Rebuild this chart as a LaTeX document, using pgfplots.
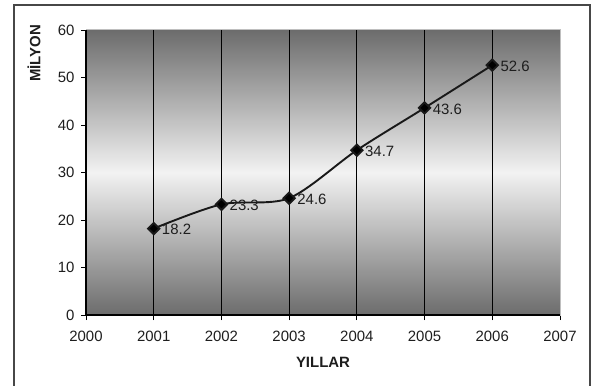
\documentclass[border=0pt]{standalone}
\usepackage{pgfplots}
\pgfplotsset{compat=1.18}
\usepackage{fontspec}
\setmainfont{Liberation Sans}
\definecolor{txt}{HTML}{1E1E1E}
\definecolor{bgdark}{HTML}{6C6C6C}
\definecolor{bglight}{HTML}{F2F2F2}
\begin{document}
\begin{tikzpicture}[x=1bp,y=1bp]
\useasboundingbox (0,0) rectangle (596,385);
\draw[black!72, line width=1.3bp] (14,-10) -- (14,380) -- (590,380) -- (590,-10);
\shade[top color=bgdark, bottom color=bgdark, middle color=bglight] (86,70) rectangle (560,355);
\begin{axis}[
  at={(86bp,70bp)}, anchor=south west,
  scale only axis, width=474bp, height=285bp,
  xmin=2000, xmax=2007, ymin=0, ymax=60,
  xtick={2000,...,2007}, ytick={0,10,...,60},
  xtick pos=bottom, ytick pos=left,
  tick align=outside, major tick length=5bp,
  tick style={black, line width=0.9bp},
  axis line style={draw=black!25, line width=1bp},
  extra x ticks={2001,...,2006}, extra x tick labels={},
  extra x tick style={grid=major, major grid style={black, line width=1.1bp}},
  ticklabel style={font=\fontsize{15}{15}\selectfont, text=txt},
  xticklabel style={yshift=-8bp},
  yticklabel style={xshift=-3bp},
  /pgf/number format/assume math mode=true,
  x tick label style={/pgf/number format/1000 sep=},
  clip=false,
]
\addplot[smooth, tension=0.5, color=black!90, line width=1.9bp,
  mark=square*, mark size=4bp, mark options={solid, fill=black, rotate=45},
  nodes near coords,
  every node near coord/.append style={anchor=west, xshift=4bp, yshift=-1bp,
     font=\fontsize{15}{15}\selectfont, text=txt,
     /pgf/number format/fixed, /pgf/number format/precision=1,
     /pgf/number format/fixed zerofill}]
  coordinates {(2001,18.2) (2002,23.3) (2003,24.6) (2004,34.7) (2005,43.6) (2006,52.6)};
\draw[black, line width=1.1bp] (rel axis cs:0,1) -- (rel axis cs:0,0) -- (rel axis cs:1,0);
\end{axis}
\node[rotate=90, anchor=east, inner sep=0pt, text=txt, font=\bfseries\fontsize{15}{15}\selectfont] at (34,360) {MİLYON};
\node[inner sep=0pt, text=txt, font=\bfseries\fontsize{15}{15}\selectfont] at (323,23) {YILLAR};
\end{tikzpicture}
\end{document}
